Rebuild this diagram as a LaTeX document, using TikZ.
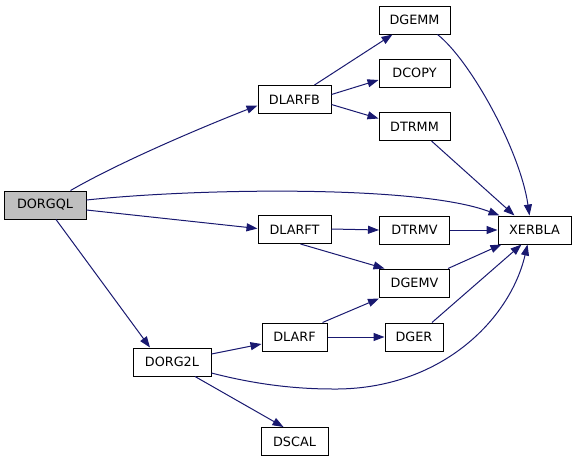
\documentclass[tikz,border=0pt]{standalone}
\usepackage{fontspec}
\setmainfont{DejaVu Sans}
\usetikzlibrary{arrows.meta,calc}
\definecolor{edgeblue}{HTML}{191970}
\definecolor{rootgray}{HTML}{BFBFBF}
\tikzset{
  fn/.style={draw=black, line width=1pt, inner sep=0pt, minimum height=28pt,
    font=\fontsize{12.8}{14}\selectfont, fill=white},
  e/.style={draw=edgeblue, line width=1pt, -{Triangle[length=11pt,width=8pt]}},
}
\begin{document}
\begin{tikzpicture}[x=1pt,y=-1pt]
\useasboundingbox (0,0) rectangle (576,461);
\node[fn, fill=rootgray, minimum width=82pt] (dorgql) at (45,205) {DORGQL};
\node[fn, minimum width=73pt] (dlarfb) at (294.5,99.5) {DLARFB};
\node[fn, minimum width=71pt] (dgemm) at (414.5,20) {DGEMM};
\node[fn, minimum width=71pt] (dcopy) at (414.5,73) {DCOPY};
\node[fn, minimum width=71pt] (dtrmm) at (414.5,126.5) {DTRMM};
\node[fn, minimum width=73pt] (xerbla) at (534.5,230) {XERBLA};
\node[fn, minimum width=73pt] (dlarft) at (294.5,229.5) {DLARFT};
\node[fn, minimum width=70pt] (dtrmv) at (414.5,230) {DTRMV};
\node[fn, minimum width=70pt] (dgemv) at (414.5,283) {DGEMV};
\node[fn, minimum width=65pt] (dlarf) at (294.5,337) {DLARF};
\node[fn, minimum width=58pt] (dger) at (414,337) {DGER};
\node[fn, minimum width=78pt] (dorg2l) at (172,362) {DORG2L};
\node[fn, minimum width=67pt] (dscal) at (294.5,441.5) {DSCAL};

% DORGQL edges
\draw[e] ([xshift=-16pt]dorgql.north east) .. controls (120,162) and (200,128) .. ([yshift=-6pt]dlarfb.west);
\draw[e] ([yshift=5pt]dorgql.east) .. controls (200,188) and (420,185) .. ([xshift=2pt]xerbla.north west);
\draw[e] ([yshift=-5pt]dorgql.east) -- ([yshift=1pt]dlarft.west);
\draw[e] ([xshift=11pt]dorgql.south) -- ([xshift=-22pt]dorg2l.north);
% DLARFB edges
\draw[e] ([xshift=20pt]dlarfb.north) -- ([xshift=-22pt]dgemm.south);
\draw[e] ([yshift=5pt]dlarfb.east) -- ([yshift=-7pt]dcopy.west);
\draw[e] ([yshift=-5pt]dlarfb.east) -- ([yshift=8pt]dtrmm.west);
% to XERBLA from top
\draw[e] ([xshift=23pt]dgemm.south) .. controls (470,60) and (520,150) .. ([xshift=-5pt]xerbla.north);
\draw[e] ([xshift=17pt]dtrmm.south) -- ([xshift=-20pt]xerbla.north);
% DLARFT edges
\draw[e] ([yshift=0.5pt]dlarft.east) -- (dtrmv.west);
\draw[e] ([xshift=6pt]dlarft.south) -- ([xshift=-30pt]dgemv.north);
\draw[e] (dtrmv.east) -- (xerbla.west);
\draw[e] ([xshift=-2pt]dgemv.north east) -- ([xshift=-33pt]xerbla.south);
% DLARF edges
\draw[e] ([xshift=-5pt]dlarf.north east) -- ([yshift=-1pt]dgemv.south west);
\draw[e] (dlarf.east) -- (dger.west);
\draw[e] ([xshift=18pt]dger.north) -- ([xshift=-13pt]xerbla.south);
% DORG2L edges
\draw[e] ([yshift=8pt]dorg2l.east) -- ([yshift=-7pt]dlarf.west);
\draw[e] ([yshift=-11pt]dorg2l.east) .. controls (250,383) and (290,389) .. (333,389)
   .. controls (440,390) and (510,320) .. ([xshift=-7pt]xerbla.south);
\draw[e] ([xshift=23pt]dorg2l.south) -- ([xshift=-11pt]dscal.north);
\end{tikzpicture}
\end{document}
